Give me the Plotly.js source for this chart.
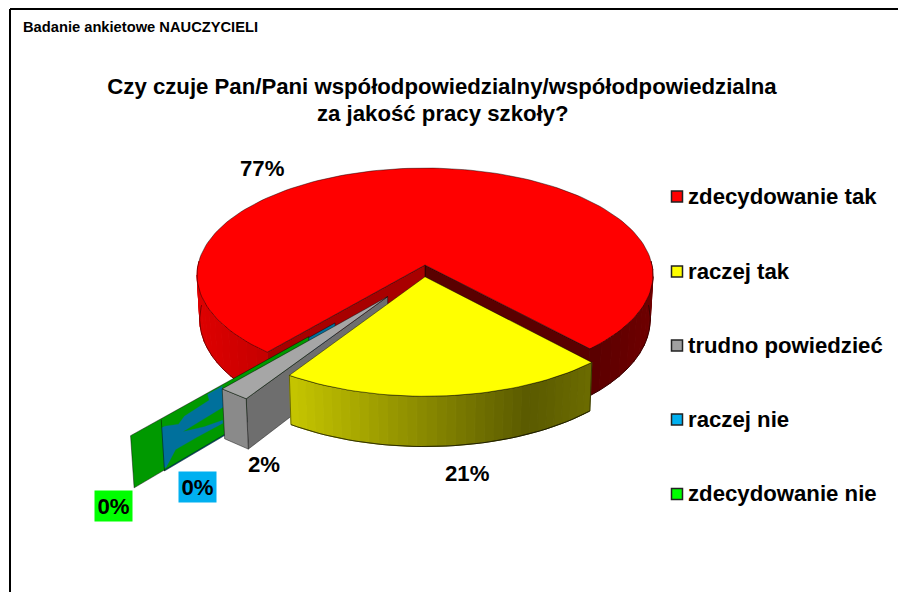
<!DOCTYPE html>
<html><head><meta charset="utf-8">
<script src="https://cdn.plot.ly/plotly-3.0.1.min.js"></script>
<style>html,body{margin:0;padding:0;background:#fff;overflow:hidden}#c{width:898px;height:592px}</style>
</head><body><div id="c"></div>
<script>
// ---- data ----
const categories = ['zdecydowanie tak','raczej tak','trudno powiedzieć','raczej nie','zdecydowanie nie'];
const values = [77,21,2,0,0];
const colors = ['#ff0000','#ffff00','#a0a0a0','#00b0f0','#00ff00'];
const pageLabel = 'Badanie ankietowe NAUCZYCIELI';
const titleLine1 = 'Czy czuje Pan/Pani współodpowiedzialny/współodpowiedzialna';
const titleLine2 = 'za jakość pracy szkoły?';

// ---- projection of the 3D pie (pixel axes) ----
const CX=425, CY=265, A=227, B=106, K=0.0934, DEPTH=48, START=220.2;
const pull = [[0,0],[0,0.11],[-0.16,0.29],[-0.377,0.52],[-0.482,0.636]];
const rad = d=>d*Math.PI/180;
function proj(u,v,d){
  const w=1-K*v;let x=CX+A*u/w,y=CY+B*v/w;
  if(d){x+=(CX-x)*0.012;y+=d*(1+(y-349)*0.001);}
  return [x,y];
}
function rim(th,off,d){return proj(Math.sin(rad(th))+off[0], -Math.cos(rad(th))+off[1], d);}
function arc(a,b,off,d,n){const p=[];for(let i=0;i<=n;i++)p.push(rim(a+(b-a)*i/n,off,d));return p;}

const traces=[];
function poly(pts,fill,line,lw){
  traces.push({type:'scatter',mode:'lines',x:pts.map(p=>p[0]).concat(pts[0][0]),y:pts.map(p=>p[1]).concat(pts[0][1]),
    fill:'toself',fillcolor:fill,line:{color:line||fill,width:lw===undefined?(line?0.7:1):lw},hoverinfo:'skip',showlegend:false});
}
function mix(a,b,t){return a.map((c,i)=>c+(b[i]-c)*t);}
function css(c){return 'rgb('+c.map(Math.round).join(',')+')';}
function stopsColor(stops,t){for(let i=1;i<stops.length;i++){if(t<=stops[i][0]){const s=stops[i-1],e=stops[i];return css(mix(s[1],e[1],(t-s[0])/(e[0]-s[0])));}}return css(stops[stops.length-1][1]);}
function side(a,b,off,stops,x0,x1,n){
  for(let i=0;i<n;i++){
    const t0=a+(b-a)*i/n,t1=a+(b-a)*(i+1)/n;
    const up=arc(t0,t1,off,0,3),dn=arc(t1,t0,off,DEPTH,3);
    const xm=(up[0][0]+up[3][0])/2;
    poly(up.concat(dn),stopsColor(stops,Math.min(1,Math.max(0,(xm-x0)/(x1-x0)))));
  }
  traces.push({type:'scatter',mode:'lines',x:arc(a,b,off,DEPTH,40).map(p=>p[0]),y:arc(a,b,off,DEPTH,40).map(p=>p[1]),
    line:{color:'rgba(0,0,0,0.65)',width:0.7},hoverinfo:'skip',showlegend:false});
}
const edge='rgba(0,0,0,0.65)';
function wall(a,off,fill){
  const c=proj(off[0],off[1],0),o=rim(a,off,0);
  poly([c,o,rim(a,off,DEPTH),proj(off[0],off[1],DEPTH)],fill,edge);
}
// slice angles, clockwise from the top
const angs=[];let cur=START;
values.forEach(v=>{angs.push([cur,cur+v*3.6]);cur+=v*3.6;});

// red slice
const redA=angs[0][0], redB=angs[0][1];
wall(redB-360,pull[0],'#5a0000');
wall(redA,pull[0],'#a80000');
side(redA,272,pull[0],[[0,[222,0,0]],[1,[196,0,0]]],197,270,14);
side(redB-360,88,pull[0],[[0,[90,0,0]],[1,[110,0,0]]],592,652,12);
poly(arc(redA,redB,pull[0],0,160).concat([proj(pull[0][0],pull[0][1],0)]),colors[0],edge);

// zero-width slices exploded from the pie: the two walls coincide
wall(angs[3][0],pull[3],'#00709c');
wall(angs[4][0],pull[4],'#009900');
// mottled patch where the blue wall shows through (fractions along / down the wall)
const mottle=[[0,.16],[.05,.16],[.27,.27],[.37,.18],[.78,.14],[.76,.01],[1,.01],[1,.43],[.33,.46],[.68,.6],[.98,.68],[.98,.74],[.55,.72],[.2,.72],[.03,.95],[0,.93]];
(function(){
  const o=rim(angs[3][0],pull[3],0), ob=rim(angs[3][0],pull[3],DEPTH);
  const c=proj(pull[3][0],pull[3][1],0), cb=proj(pull[3][0],pull[3][1],DEPTH);
  const gx=rim(angs[2][1],pull[2],0)[0];
  const f=(gx-o[0])/(c[0]-o[0]);
  poly(mottle.map(q=>{
    const s=q[0]*f,t=q[1];
    const tx=o[0]+(c[0]-o[0])*s, ty=o[1]+(c[1]-o[1])*s;
    const bx=ob[0]+(cb[0]-ob[0])*s, by=ob[1]+(cb[1]-ob[1])*s;
    return [tx+(bx-tx)*t, ty+(by-ty)*t];
  }),'#00709c','#00709c',0.3);
  traces.push({type:'scatter',mode:'lines',x:[o[0],ob[0]],y:[o[1],ob[1]],line:{color:edge,width:0.7},hoverinfo:'skip',showlegend:false});
})();

// grey slice
const gA=angs[2][0], gB=angs[2][1];
wall(gA,pull[2],'#6e6e6e');
poly(arc(gA,gB,pull[2],0,1).concat(arc(gB,gA,pull[2],DEPTH,1)),'#8a8a8a',edge);
poly(arc(gA,gB,pull[2],0,2).concat([proj(pull[2][0],pull[2][1],0)]),'#a6a6a6',edge);

// yellow slice
const yA=angs[1][0], yB=angs[1][1];
side(yA,yB,pull[1],[[0,[198,198,0]],[0.78,[90,90,0]],[1,[108,108,0]]],290,594,34);
poly(arc(yA,yB,pull[1],0,40).concat(arc(yB,yA,pull[1],DEPTH,40)),'rgba(0,0,0,0)',edge);
poly(arc(yA,yB,pull[1],0,40).concat([proj(pull[1][0],pull[1][1],0)]),colors[1],edge);

// legend swatches
const LEG_X=677, LEG_Y=[196.5,271.5,345.5,419.5,494];
traces.push({type:'scatter',mode:'markers',x:LEG_Y.map(()=>LEG_X),y:LEG_Y,hoverinfo:'skip',showlegend:false,
  marker:{symbol:'square',size:11,color:colors,line:{color:'#222',width:1.5}}});

const font={family:'"Liberation Sans",Arial,sans-serif',color:'#000',size:22.2};
const bold=s=>'<b>'+s+'</b>';
const ann=[];
function note(x,y,t,o){ann.push(Object.assign({xref:'x',yref:'y',x:x,y:y,text:t,showarrow:false,font:font,xanchor:'center',yanchor:'middle'},o||{}));}
categories.forEach((c,i)=>note(687,LEG_Y[i]-0.5,bold(c),{xanchor:'left',xshift:-1}));
note(262,168,bold(values[0]+'%'));
note(467,473,bold(values[1]+'%'));
note(264,464,bold(values[2]+'%'));
note(197.5,487,bold(values[3]+'%'),{bgcolor:colors[3],borderpad:2.5});
note(113,506,bold(values[4]+'%'),{bgcolor:colors[4],borderpad:2.5});
note(22,27,bold(pageLabel),{xanchor:'left',xshift:-1.5,font:Object.assign({},font,{size:14.7})});
note(443,113,bold(titleLine2));

Plotly.newPlot('c',traces,{
  width:898,height:592,margin:{l:0,r:0,t:0,b:0},paper_bgcolor:'#fff',plot_bgcolor:'#fff',showlegend:false,hovermode:false,
  title:{text:bold(titleLine1),x:442/898,xanchor:'center',y:1-86/592,yanchor:'middle',font:{family:font.family,size:22.2,color:'#000'}},
  xaxis:{range:[0,898],visible:false,fixedrange:true},
  yaxis:{range:[592,0],visible:false,fixedrange:true},
  annotations:ann,
  shapes:[{type:'line',xref:'x',yref:'y',x0:10,x1:10,y0:9,y1:592,line:{color:'#000',width:2}},
          {type:'line',xref:'x',yref:'y',x0:10,x1:898,y0:9,y1:9,line:{color:'#000',width:2}}]
},{displayModeBar:false,staticPlot:true});
</script></body></html>
